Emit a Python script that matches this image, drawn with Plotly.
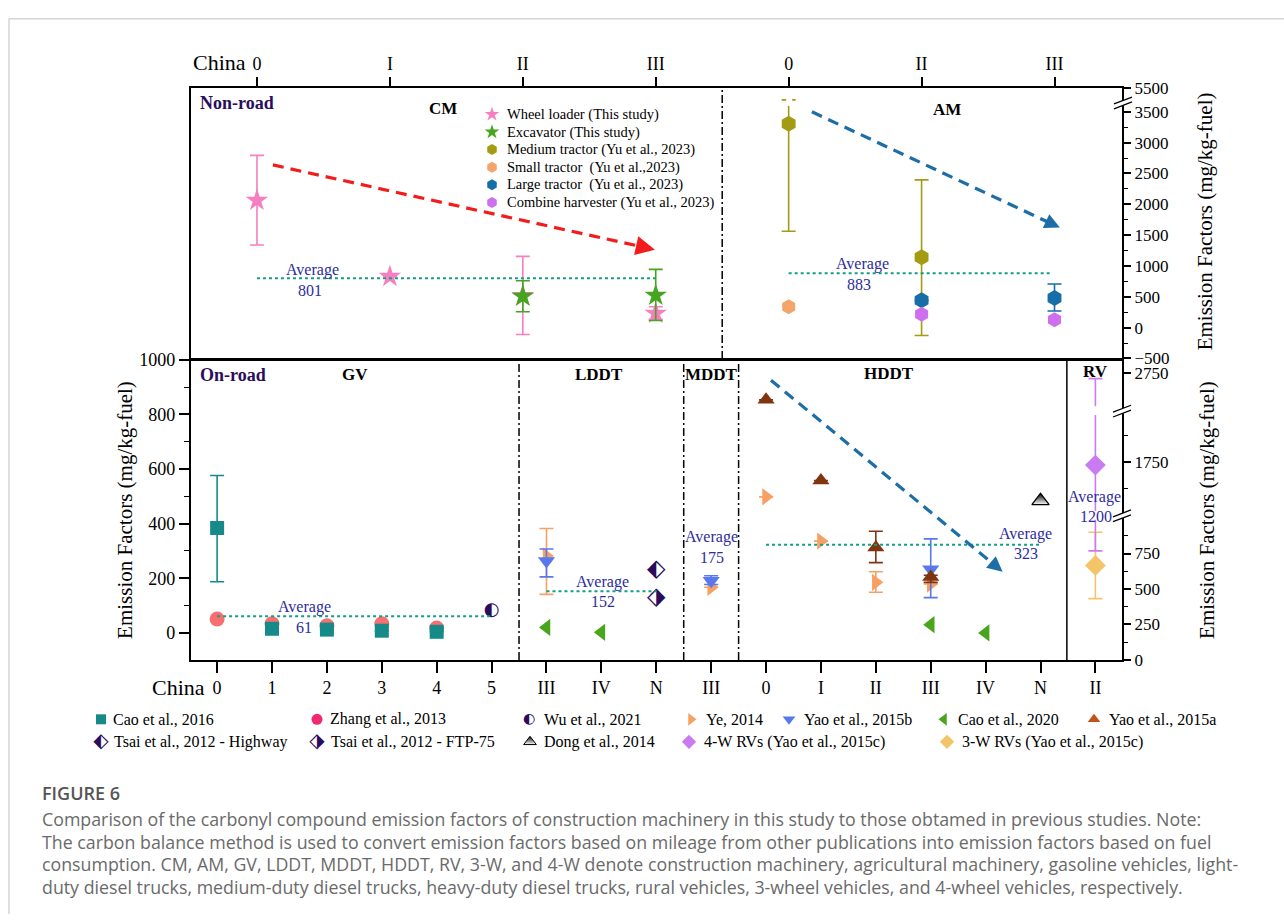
import plotly.graph_objects as go

W, H = 1284, 924
FONT = "Liberation Serif"


def px(x):
    return x / W


def py(y):
    return 1 - y / H


# ---------------- data: top panel (non-road, CM + AM) ----------------
top_ticks = ["0", "I", "II", "III", "0", "II", "III"]  # CM: 0..3, AM: 4..6

wheel_x = [0, 1, 2, 3]
wheel_y = [2064, 829, 520, 232]
wheel_hi = [2793, None, 1156, 338]
wheel_lo = [1341, None, -111, 137]

exc_x = [2, 3]
exc_y = [507, 523]
exc_hi = [760, 945]
exc_lo = [259, 116]

medtr_x = [4, 5]
medtr_y = [3305, 1140]
medtr_hi = [4490, 2397]
medtr_lo = [1563, -127]

smalltr_x = [4]
smalltr_y = [338]

largetr_x = [5, 6]
largetr_y = [443, 480]
largetr_hi = [None, 707]
largetr_lo = [None, 269]

comb_x = [5, 6]
comb_y = [216, 127]

avg_cm, avg_am = 801, 883

# ---------------- data: bottom panel (on-road) ----------------
bottom_ticks = ["0", "1", "2", "3", "4", "5", "III", "IV", "N", "III",
                "0", "I", "II", "III", "IV", "N", "II"]

cao16_x = [0, 1, 2, 3, 4]
cao16_y = [384, 15, 12, 8, 4]
cao16_hi = [576, None, None, None, None]
cao16_lo = [187, None, None, None, None]

zhang_x = [0, 1, 2, 3, 4]
zhang_y = [51, 33, 26, 33, 18]

wu_x = [5]
wu_y = [83]

ye_x = [6, 9, 10, 11, 12, 13]
ye_y = [281, 167, 498, 336, 185, 179]
ye_hi = [382, None, None, None, 224, None]
ye_lo = [141, None, None, None, 149, None]

yao15b_x = [6, 9, 13]
yao15b_y = [263, 191, 233]
yao15b_hi = [307, 209, 344]
yao15b_lo = [205, 177, 129]

cao20_x = [6, 7, 13, 14]
cao20_y = [20, 2, 30, 0]

yao15a_x = [10, 11, 12, 13]
yao15a_y = [853, 558, 313, 205]
yao15a_hi = [None, None, 372, 211]
yao15a_lo = [None, None, 257, 185]

tsaiH_x, tsaiH_y = [8], [229]
tsaiF_x, tsaiF_y = [8], [129]
dong_x, dong_y = [15], [483]

rv4_x, rv4_y, rv4_hi, rv4_lo = [16], [1722], [2694], [769]
rv3_x, rv3_y, rv3_hi, rv3_lo = [16], [666], [900], [432]

avg_gv, avg_lddt, avg_mddt, avg_hddt, avg_rv = 61, 152, 175, 323, 1200


# broken-axis transforms
def top_axis(v):
    if v is None:
        return None
    return v if v <= 3500 else 3500 + (v - 3500) * 0.196


def rv_axis(v):
    if v is None:
        return None
    if v <= 1100:
        return v
    if v <= 2300:
        return 1395 + (v - 1750) * 0.744
    return 2025 + (v - 2750) * 0.744


def ident(v):
    return v


fig = go.Figure()


def series(x, y, xa, ya, symbol, size, color, hi=None, lo=None, tf=ident,
           ecolor=None, line=None, opacity=1.0):
    yd = [tf(v) for v in y]
    err = None
    if hi is not None:
        plus = [None if h is None else tf(h) - tf(v) for v, h in zip(y, hi)]
        minus = [None if l is None else tf(v) - tf(l) for v, l in zip(y, lo)]
        err = dict(type="data", symmetric=False, array=plus, arrayminus=minus,
                   color=ecolor or color, thickness=1.6, width=7)
    mk = dict(symbol=symbol, size=size, color=color, opacity=opacity,
              line=line or dict(width=0))
    fig.add_trace(go.Scatter(x=x, y=yd, mode="markers", marker=mk, error_y=err,
                             xaxis=xa, yaxis=ya, showlegend=False,
                             cliponaxis=False, hoverinfo="skip"))


C = dict(
    wheel="#F67FC0", exc="#46A51E", medtr="#A39C12", smalltr="#F5A46C",
    largetr="#176DA5", comb="#CE70EE", cao16="#168A88", zhang="#F76F70",
    zhang_leg="#EF2A70", wu="#2B0B5C", ye="#F7A063", yao15b="#5878EE",
    cao20="#48A51C", yao15a="#7E3510", yao15a_leg="#C0521A", tsai="#2B0B5C",
    dong="#000000", rv4="#C97CF2", rv3="#F4C468", avg_line="#12A085",
    avg_text="#2D2D9E", purple="#2A0E5C", red="#F21C1C", blue="#1B6EA8",
)

# ---- top panel marks ----
series(wheel_x, wheel_y, "x", "y", "star", 17, C["wheel"], wheel_hi, wheel_lo, top_axis)
series(exc_x, exc_y, "x", "y", "star", 17, C["exc"], exc_hi, exc_lo, top_axis)
series(medtr_x, medtr_y, "x", "y", "hexagon", 16, C["medtr"], medtr_hi, medtr_lo, top_axis)
series(smalltr_x, smalltr_y, "x", "y", "hexagon", 15, C["smalltr"], tf=top_axis)
series(largetr_x, largetr_y, "x", "y", "hexagon", 16, C["largetr"], largetr_hi, largetr_lo, top_axis)
series(comb_x, comb_y, "x", "y", "hexagon", 15, C["comb"], tf=top_axis)

# averages (top)
fig.add_trace(go.Scatter(x=[0, 3], y=[avg_cm, avg_cm], mode="lines", xaxis="x", yaxis="y",
                         line=dict(color=C["avg_line"], width=2, dash="dot"),
                         showlegend=False, hoverinfo="skip"))
fig.add_trace(go.Scatter(x=[4, 5.97], y=[avg_am, avg_am], mode="lines", xaxis="x", yaxis="y",
                         line=dict(color=C["avg_line"], width=2, dash="dot"),
                         showlegend=False, hoverinfo="skip"))

# ---- bottom panel marks ----
series(zhang_x, zhang_y, "x2", "y2", "circle", 15, C["zhang"])
series(cao16_x, cao16_y, "x2", "y2", "square", 14, C["cao16"], cao16_hi, cao16_lo)
fig.add_trace(go.Scatter(x=wu_x, y=wu_y, mode="text", text=["◐"] * len(wu_x),
                         textfont=dict(family="DejaVu Sans", size=18, color=C["wu"]),
                         xaxis="x2", yaxis="y2", showlegend=False, hoverinfo="skip",
                         cliponaxis=False))
series(ye_x, ye_y, "x2", "y2", "triangle-right", 15, C["ye"], ye_hi, ye_lo)
series(yao15b_x, yao15b_y, "x2", "y2", "triangle-down", 15, C["yao15b"], yao15b_hi, yao15b_lo)
series(cao20_x, cao20_y, "x2", "y2", "triangle-left", 15, C["cao20"])
series(yao15a_x, yao15a_y, "x2", "y2", "triangle-up", 15, C["yao15a"], yao15a_hi, yao15a_lo)
for tx, ty, g in [(tsaiH_x, tsaiH_y, "⬖"), (tsaiF_x, tsaiF_y, "⬗")]:
    fig.add_trace(go.Scatter(x=tx, y=ty, mode="text", text=[g] * len(tx),
                             textfont=dict(family="DejaVu Sans", size=24, color=C["tsai"]),
                             xaxis="x2", yaxis="y2", showlegend=False, hoverinfo="skip",
                             cliponaxis=False))
fig.add_trace(go.Scatter(x=dong_x, y=dong_y, mode="markers", xaxis="x2", yaxis="y2",
                         marker=dict(symbol="triangle-up", size=15, color="black",
                                     gradient=dict(type="vertical", color="white"),
                                     line=dict(color="black", width=1.3)),
                         showlegend=False, hoverinfo="skip"))
series(rv3_x, rv3_y, "x2", "y3", "diamond", 16, C["rv3"], rv3_hi, rv3_lo, rv_axis)
series(rv4_x, rv4_y, "x2", "y3", "diamond", 16, C["rv4"], rv4_hi, rv4_lo, rv_axis)

for xs, v in [([0, 5], avg_gv), ([6, 8], avg_lddt), ([10, 15], avg_hddt)]:
    fig.add_trace(go.Scatter(x=xs, y=[v, v], mode="lines", xaxis="x2", yaxis="y2",
                             line=dict(color=C["avg_line"], width=2, dash="dot"),
                             showlegend=False, hoverinfo="skip"))

# ---------------- axes ----------------
XDOM = [px(190.5), px(1122.3)]
axis_common = dict(showline=True, linewidth=1.5, linecolor="black", mirror=True,
                   showgrid=False, zeroline=False, ticks="outside", tickwidth=1.5,
                   tickcolor="black", tickfont=dict(family=FONT, size=18, color="black"))

top_yt = list(range(-500, 3501, 500))
top_ylabels = [("−" + str(-v)) if v < 0 else str(v) for v in top_yt]

fig.update_layout(
    width=W, height=H, margin=dict(l=0, r=0, t=0, b=0),
    paper_bgcolor="white", plot_bgcolor="rgba(0,0,0,0)",
    xaxis=dict(domain=XDOM, range=[-0.50, 6.51], anchor="y", side="top",
               tickmode="array", tickvals=list(range(7)), ticktext=top_ticks,
               ticklen=9, **axis_common),
    yaxis=dict(domain=[py(356.7), py(79.3)], range=[-508, 3893], anchor="x", side="right",
               tickmode="array", tickvals=top_yt + [top_axis(5500)],
               ticktext=top_ylabels + ["5500"], ticklen=7,
               minor=dict(tickmode="array", tickvals=list(range(-250, 3500, 500)),
                          ticklen=4, ticks="outside", tickwidth=1.2, tickcolor="black"),
               **{**axis_common, "tickfont": dict(family=FONT, size=17, color="black")}),
    xaxis2=dict(domain=XDOM, range=[-0.485, 16.49], anchor="y2", side="bottom",
                tickmode="array", tickvals=list(range(17)), ticktext=bottom_ticks,
                ticklen=11, **axis_common),
    yaxis2=dict(domain=[py(664.3), py(357.3)], range=[-99, 1000.5], anchor="x2", side="left",
                tickmode="array", tickvals=list(range(0, 1001, 200)), ticklen=10,
                minor=dict(tickmode="array", tickvals=list(range(100, 1000, 200)),
                           ticklen=5, ticks="outside", tickwidth=1.2, tickcolor="black"),
                **axis_common),
    yaxis3=dict(overlaying="y2", anchor="x2", side="right", range=[-0.5, 2118],
                tickmode="array",
                tickvals=[0, 250, 500, 750, rv_axis(1750), rv_axis(2750)],
                ticktext=["0", "250", "500", "750", "1750", "2750"], ticklen=7,
                minor=dict(tickmode="array",
                           tickvals=[125, 375, 625, 875, rv_axis(1500), rv_axis(2000)],
                           ticklen=4, ticks="outside", tickwidth=1.2, tickcolor="black"),
                showline=True, linewidth=1.5, linecolor="black", showgrid=False,
                zeroline=False, ticks="outside", tickwidth=1.5, tickcolor="black",
                tickfont=dict(family=FONT, size=17, color="black")),
    xaxis3=dict(domain=[0, 1], range=[0, W], anchor="y4", visible=False),
    yaxis4=dict(domain=[0, 1], range=[H, 0], anchor="x3", visible=False),
)

shapes = []
# outer page frame lines
shapes.append(dict(type="line", xref="paper", yref="paper", x0=px(9), x1=1, y0=py(9), y1=py(9),
                   line=dict(color="#D4D4D4", width=1.5)))
shapes.append(dict(type="line", xref="paper", yref="paper", x0=px(9), x1=px(9), y0=py(9), y1=0,
                   line=dict(color="#D4D4D4", width=1.5)))

# dividers
DD = "8px,3px,2px,3px"
shapes.append(dict(type="line", xref="x", yref="y domain", x0=3.5, x1=3.5, y0=0, y1=1,
                   line=dict(color="black", width=1.5, dash=DD)))
for xv in [5.5, 8.5, 9.5]:
    shapes.append(dict(type="line", xref="x2", yref="y2 domain", x0=xv, x1=xv, y0=0, y1=1,
                       line=dict(color="black", width=1.5, dash=DD)))
shapes.append(dict(type="line", xref="x2", yref="y2 domain", x0=15.48, x1=15.48, y0=0, y1=1,
                   line=dict(color="black", width=1.5)))


# trend arrows (dashed shafts + heads)
def arrow(x0, y0, x1, y1, xa, ya, color, width=3.2, size=1.1):
    bx = x1 - (x1 - x0) * 0.05
    by = y1 - (y1 - y0) * 0.05
    shapes.append(dict(type="line", xref=xa, yref=ya, x0=x0, y0=y0, x1=bx, y1=by,
                       line=dict(color=color, width=width, dash="11px,7px")))
    fig.add_annotation(x=x1, y=y1, ax=bx, ay=by, xref=xa, yref=ya, axref=xa, ayref=ya,
                       showarrow=True, arrowhead=2, arrowsize=size, arrowwidth=width,
                       arrowcolor=color, text="")


arrow(0.12, 2639, 2.994, 1264, "x", "y", C["red"], size=1.2)
arrow(4.175, 3500, 6.04, 1623, "x", "y", C["blue"], size=0.95)
arrow(10.09, 925, 14.31, 224, "x2", "y2", C["blue"], size=0.95)


# axis breaks
def brk(cx, cy, w=9, s=3.5, g=2.5):
    pts = [(cx - w, cy + s - g), (cx + w, cy - s - g), (cx + w, cy - s + g), (cx - w, cy + s + g)]
    path = "M" + " L".join(f"{px(a):.5f},{py(b):.5f}" for a, b in pts) + " Z"
    shapes.append(dict(type="path", xref="paper", yref="paper", path=path,
                       fillcolor="white", line=dict(width=0)))
    for k in (-1, 1):
        shapes.append(dict(type="line", xref="paper", yref="paper",
                           x0=px(cx - w), y0=py(cy + s + k * g), x1=px(cx + w), y1=py(cy - s + k * g),
                           line=dict(color="black", width=1.3)))


def gap(cx, y0, y1, w=3):
    shapes.append(dict(type="rect", xref="paper", yref="paper", x0=px(cx - w), x1=px(cx + w),
                       y0=py(y1), y1=py(y0), fillcolor="white", line=dict(width=0)))


gap(789.2, 90, 98)
gap(1095.7, 405, 414)
gap(1095.7, 512, 521)
brk(1123, 95)
brk(1122, 410)
brk(1122, 517)

fig.update_layout(shapes=shapes)


# ---------------- text annotations ----------------
def txt(x, y, s, size=16, color="black", bold=False, family=FONT, xanchor="center",
        angle=0, weight=None):
    font = dict(family=family, size=size, color=color)
    if weight:
        font["weight"] = weight
    fig.add_annotation(x=px(x), y=py(y), xref="paper", yref="paper",
                       text=("<b>%s</b>" % s) if bold else s,
                       showarrow=False, xanchor=xanchor, yanchor="middle", textangle=angle,
                       font=font)


txt(219, 54, "China", 22)
txt(179, 692, "China", 22)
txt(198, 95, "Non-road", 18, C["purple"], True, xanchor="left")
txt(443, 101, "CM", 17, bold=True)
txt(946.5, 102, "AM", 17, bold=True)
txt(198, 373, "On-road", 18, C["purple"], True, xanchor="left")
txt(355, 373, "GV", 17, bold=True)
txt(599, 373, "LDDT", 17, bold=True)
txt(712, 373, "MDDT", 17, bold=True)
txt(889, 372, "HDDT", 17, bold=True)
txt(1095, 370, "RV", 17, bold=True)

title = "Emission Factors (mg/kg-fuel)"
txt(125, 511, title, 21, angle=-90)
txt(1205, 216, title, 21, angle=-90)
txt(1207, 511, title, 21, angle=-90)

# average labels
for (xy, s) in [((312.6, 266), "Average"), ((309.6, 287), str(avg_cm)),
                ((862.5, 260), "Average"), ((859, 281), str(avg_am)),
                ((304, 610), "Average"), ((304, 631), str(avg_gv)),
                ((602.7, 585), "Average"), ((603.3, 605), str(avg_lddt)),
                ((711.7, 539), "Average"), ((711.7, 560), str(avg_mddt)),
                ((1025, 536), "Average"), ((1025.8, 556), str(avg_hddt)),
                ((1094, 498), "Average"), ((1095.7, 518), str(avg_rv))]:
    txt(xy[0], xy[1], s, 16, C["avg_text"])


# ---------------- legends (drawn manually) ----------------
def leg_marker(x, y, symbol, size, color, line=None, gradient=None):
    mk = dict(symbol=symbol, size=size, color=color, line=line or dict(width=0))
    if gradient:
        mk["gradient"] = gradient
    fig.add_trace(go.Scatter(x=[x], y=[y], mode="markers", marker=mk, xaxis="x3", yaxis="y4",
                             showlegend=False, hoverinfo="skip", cliponaxis=False))


def leg_glyph(x, y, g, color, size=15):
    fig.add_trace(go.Scatter(x=[x], y=[y], mode="text", text=[g], xaxis="x3", yaxis="y4",
                             textfont=dict(family="DejaVu Sans", size=size, color=color),
                             showlegend=False, hoverinfo="skip", cliponaxis=False))


top_leg = [("star", C["wheel"], "Wheel loader (This study)"),
           ("star", C["exc"], "Excavator (This study)"),
           ("hexagon", C["medtr"], "Medium tractor (Yu et al., 2023)"),
           ("hexagon", C["smalltr"], "Small tractor  (Yu et al.,2023)"),
           ("hexagon", C["largetr"], "Large tractor  (Yu et al., 2023)"),
           ("hexagon", C["comb"], "Combine harvester (Yu et al., 2023)")]
for i, (sym, col, lab) in enumerate(top_leg):
    yy = 106.7 + i * 18.0
    leg_marker(492, yy, sym, 11, col)
    txt(505, yy, lab, 14.5, xanchor="left")

row1, row2 = 725, 748
leg_marker(101, row1, "square", 10, C["cao16"])
txt(111, row1, "Cao et al., 2016", 16, xanchor="left")
leg_marker(317, row1, "circle", 11, C["zhang_leg"])
txt(328, row1, "Zhang et al., 2013", 16, xanchor="left")
leg_glyph(529, row1, "◐", C["wu"], 14)
txt(542, row1, "Wu et al., 2021", 16, xanchor="left")
leg_marker(691, row1, "triangle-right", 11, C["ye"])
txt(704, row1, "Ye, 2014", 16, xanchor="left")
leg_marker(789, row1, "triangle-down", 11, C["yao15b"])
txt(802, row1, "Yao et al., 2015b", 16, xanchor="left")
leg_marker(944, row1, "triangle-left", 11, C["cao20"])
txt(956, row1, "Cao et al., 2020", 16, xanchor="left")
leg_marker(1094, row1, "triangle-up", 11, C["yao15a_leg"])
txt(1107, row1, "Yao et al., 2015a", 16, xanchor="left")

leg_glyph(101, row2, "⬖", C["tsai"], 20)
txt(112, row2, "Tsai et al., 2012 - Highway", 16, xanchor="left")
leg_glyph(317, row2, "⬗", C["tsai"], 20)
txt(329, row2, "Tsai et al., 2012 - FTP-75", 16, xanchor="left")
leg_marker(530, row2, "triangle-up", 11, "black", line=dict(color="black", width=1),
           gradient=dict(type="vertical", color="white"))
txt(542, row2, "Dong et al., 2014", 16, xanchor="left")
leg_marker(689, row2, "diamond", 11, C["rv4"])
txt(702, row2, "4-W RVs (Yao et al., 2015c)", 16, xanchor="left")
leg_marker(947, row2, "diamond", 11, C["rv3"])
txt(960, row2, "3-W RVs (Yao et al., 2015c)", 16, xanchor="left")

# ---------------- caption ----------------
CAP = "Open Sans"
txt(40, 800, "FIGURE 6", 18, "#555555", family=CAP, xanchor="left", weight=600)
cap_lines = [
    "Comparison of the carbonyl compound emission factors of construction machinery in this study to those obtamed in previous studies. Note:",
    "The carbon balance method is used to convert emission factors based on mileage from other publications into emission factors based on fuel",
    "consumption. CM, AM, GV, LDDT, MDDT, HDDT, RV, 3-W, and 4-W denote construction machinery, agricultural machinery, gasoline vehicles, light-",
    "duty diesel trucks, medium-duty diesel trucks, heavy-duty diesel trucks, rural vehicles, 3-wheel vehicles, and 4-wheel vehicles, respectively.",
]
for i, line in enumerate(cap_lines):
    txt(40, 827 + i * 23, line, 17.8, "#6A6A6A", family=CAP, xanchor="left")

fig.write_html("out.html")
